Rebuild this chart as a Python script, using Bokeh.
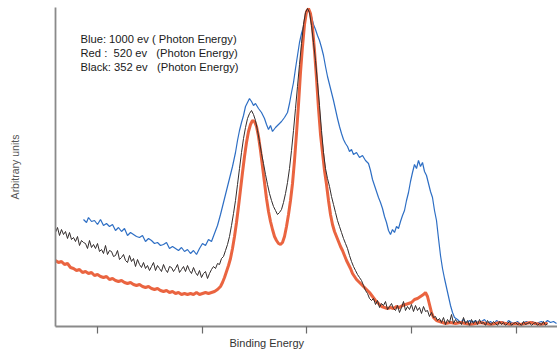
from bokeh.plotting import figure
from bokeh.models import Range1d, FixedTicker, Label, LinearAxis, Title
from bokeh.embed import file_html
from bokeh.resources import INLINE

# ---- data (x: binding-energy position, y: intensity, arbitrary units) ----
blue_x = [83, 86, 88, 91, 94, 97, 100, 103, 106, 109,
          112, 115, 118, 121, 124, 127, 130, 133, 136, 139,
          142, 145, 148, 151, 154, 157, 160, 163, 166, 169,
          172, 175, 178, 181, 184, 187, 190, 193, 196, 199,
          202, 205, 208, 211, 214, 217, 220, 223, 226, 229,
          232, 235, 237, 239, 241, 243, 245, 247, 249, 251,
          253, 255, 258, 261, 264, 266, 268, 270, 272, 275,
          278, 281, 284, 287, 289, 291, 293, 295, 297, 299,
          301, 303, 305, 307, 309, 311, 313, 315, 317, 319,
          321, 323, 325, 327, 329, 331, 333, 335, 337, 339,
          341, 343, 345, 347, 349, 351, 353, 356, 359, 362,
          365, 368, 370, 372, 374, 376, 378, 380, 382, 384,
          386, 388, 390, 392, 394, 396, 398, 400, 402, 404,
          406, 408, 410, 412, 414, 416, 418, 420, 422, 424,
          426, 428, 430, 432, 434, 436, 438, 440, 442, 444,
          446, 448, 450, 452, 454, 457, 460, 463, 466, 469,
          472, 475, 478, 481, 484, 487, 490, 493, 496, 499,
          502, 505, 508, 511, 514, 517, 520, 523, 526, 529,
          532, 535, 538, 541, 544, 547, 550, 553, 556]
blue_y = [109, 106, 111, 107, 108, 104, 109, 103, 105, 102,
          104, 98, 101, 97, 100, 93, 96, 94, 92, 91,
          93, 87, 90, 88, 85, 86, 83, 84, 86, 80,
          82, 80, 78, 81, 77, 79, 75, 78, 74, 80,
          85, 83, 89, 87, 95, 103, 114, 126, 138, 150,
          162, 176, 188, 198, 206, 213, 222, 226, 230, 227,
          223, 225, 220, 216, 210, 204, 199, 203, 197, 201,
          204, 207, 211, 216, 225, 236, 246, 260, 273, 286,
          295, 302, 311, 319, 316, 312, 304, 299, 293, 288,
          281, 273, 262, 252, 244, 236, 228, 219, 210, 202,
          195, 189, 185, 182, 177, 179, 174, 176, 171, 173,
          168, 165, 158, 149, 143, 137, 131, 126, 120, 112,
          106, 98, 94, 99, 96, 102, 100, 107, 113, 118,
          128, 136, 147, 156, 164, 160, 168, 162, 166, 157,
          153, 145, 137, 131, 118, 108, 90, 73, 60, 50,
          41, 32, 23, 16, 11, 9, 6, 9, 5, 8,
          6, 8, 5, 7, 9, 5, 7, 4, 8, 6,
          7, 4, 8, 6, 5, 7, 4, 6, 7, 5,
          7, 4, 6, 7, 5, 8, 6, 7, 5]

black_x = [55, 57, 59, 61, 63, 65, 67, 69, 71, 73,
           75, 77, 79, 81, 83, 85, 87, 89, 91, 93,
           95, 97, 99, 101, 103, 105, 107, 109, 111, 113,
           115, 117, 119, 121, 123, 125, 127, 129, 131, 133,
           135, 137, 139, 141, 143, 145, 147, 149, 151, 153,
           155, 157, 159, 161, 163, 165, 167, 169, 171, 173,
           175, 177, 179, 181, 183, 185, 187, 189, 191, 193,
           195, 197, 199, 201, 203, 205, 207, 209, 211, 213,
           215, 217, 219, 221, 223, 225, 227, 229, 231, 233,
           235, 237, 239, 241, 243, 245, 247, 249, 251, 253,
           255, 257, 259, 261, 263, 265, 267, 269, 271, 273,
           275, 277, 279, 281, 283, 285, 287, 289, 291, 293,
           295, 297, 299, 301, 303, 305, 307, 309, 311, 313,
           315, 317, 319, 321, 323, 325, 327, 329, 331, 333,
           335, 337, 339, 341, 343, 345, 347, 349, 351, 353,
           355, 357, 359, 361, 363, 365, 367, 369, 371, 373,
           375, 377, 379, 381, 383, 385, 387, 389, 391, 393,
           395, 397, 399, 401, 403, 405, 407, 409, 411, 413,
           415, 417, 419, 421, 423, 425, 427, 429, 431, 433,
           435, 437, 439, 441, 443, 445, 447, 449, 451, 453,
           455, 457, 459, 461, 463, 465, 467, 469, 471, 473,
           475, 477, 479, 481, 483, 485, 487, 489, 491, 493,
           495, 497, 499, 501, 503, 505, 507, 509, 511, 513,
           515, 517, 519, 521, 523, 525, 527, 529, 531, 533,
           535, 537, 539, 541, 543, 545, 547]
black_y = [96, 101, 93, 99, 94, 97, 90, 96, 89, 91,
           87, 92, 83, 88, 86, 85, 80, 88, 81, 84,
           80, 85, 77, 79, 75, 83, 74, 78, 77, 72,
           73, 78, 69, 71, 74, 68, 66, 73, 67, 70,
           62, 69, 64, 61, 66, 60, 63, 58, 62, 66,
           58, 63, 60, 57, 64, 59, 56, 62, 61, 57,
           60, 64, 56, 59, 62, 57, 63, 58, 55, 61,
           56, 53, 58, 51, 55, 57, 50, 55, 59, 62,
           60, 65, 64, 70, 72, 78, 84, 92, 103, 115,
           128, 144, 160, 176, 190, 201, 210, 215, 218, 214,
           208, 198, 187, 175, 165, 154, 144, 135, 128, 122,
           118, 114, 116, 119, 126, 135, 146, 160, 178, 198,
           220, 242, 264, 285, 304, 316, 320, 316, 303, 286,
           268, 246, 223, 198, 176, 160, 150, 142, 132, 124,
           116, 108, 102, 96, 90, 85, 80, 73, 67, 62,
           58, 54, 51, 48, 43, 38, 35, 30, 28, 30,
           24, 28, 21, 25, 23, 27, 19, 22, 25, 20,
           18, 23, 16, 21, 27, 18, 22, 19, 24, 17,
           23, 18, 21, 15, 22, 17, 18, 12, 16, 11,
           12, 8, 10, 6, 11, 4, 9, 6, 14, 5,
           9, 6, 7, 4, 11, 5, 8, 3, 9, 5,
           8, 4, 9, 5, 6, 3, 8, 5, 4, 7,
           5, 3, 7, 4, 6, 3, 5, 7, 3, 5,
           6, 4, 5, 3, 7, 4, 5, 6, 3, 5,
           6, 3, 5, 4, 7, 3, 5]

red_x = [55, 58, 61, 64, 67, 70, 73, 76, 79, 82,
         85, 88, 91, 94, 97, 100, 103, 106, 109, 112,
         115, 118, 121, 124, 127, 130, 133, 136, 139, 142,
         145, 148, 151, 154, 157, 160, 163, 166, 169, 172,
         175, 178, 181, 184, 187, 190, 193, 196, 199, 202,
         205, 208, 211, 214, 217, 220, 222, 224, 226, 228,
         230, 232, 234, 236, 238, 240, 242, 244, 246, 248,
         250, 252, 254, 256, 258, 260, 262, 264, 266, 268,
         270, 272, 274, 276, 278, 280, 282, 284, 286, 288,
         290, 292, 294, 296, 298, 300, 302, 304, 306, 308,
         310, 312, 314, 316, 318, 320, 322, 324, 326, 328,
         330, 332, 334, 336, 338, 340, 342, 344, 346, 348,
         350, 352, 354, 356, 358, 360, 363, 366, 369, 372,
         375, 378, 381, 384, 387, 390, 393, 396, 399, 402,
         405, 408, 411, 414, 417, 420, 423, 425, 427, 429,
         431, 433, 436, 439, 442, 445, 450, 455, 460, 465,
         470, 475, 480, 485, 490, 495, 500, 505, 510, 515,
         520, 525, 530, 535, 540, 545, 547]
red_y = [68, 66, 67, 64, 65, 61, 60, 58, 59, 56,
         57, 55, 56, 53, 54, 52, 51, 52, 49, 50,
         48, 47, 48, 46, 45, 46, 44, 43, 44, 42,
         41, 42, 40, 39, 40, 38, 37, 38, 36, 37,
         35, 36, 34, 35, 34, 35, 34, 36, 34, 35,
         36, 35, 36, 37, 39, 42, 46, 51, 57, 63,
         70, 80, 92, 106, 122, 139, 156, 172, 186, 197,
         204, 208, 207, 202, 192, 178, 162, 146, 130, 117,
         107, 99, 92, 88, 85, 84, 86, 92, 102, 114,
         128, 145, 168, 195, 224, 256, 282, 304, 317, 320,
         315, 301, 278, 250, 220, 194, 176, 158, 144, 128,
         114, 104, 97, 92, 87, 82, 78, 73, 68, 64,
         60, 55, 52, 49, 47, 45, 42, 39, 36, 32,
         28, 25, 22, 21, 20, 21, 20, 22, 21, 23,
         24, 25, 26, 29, 30, 32, 34, 36, 32, 24,
         16, 11, 8, 7, 6, 5, 6, 5, 6, 5,
         4, 5, 6, 5, 4, 5, 6, 5, 4, 5,
         4, 5, 6, 5, 4, 5, 5]

tick_positions = [97, 202, 306, 411, 516]
legend_lines = ["Blue: 1000 ev ( Photon Energy)",
                "Red :\u00a0\u00a0520 ev\u00a0\u00a0\u00a0(Photon Energy)",
                "Black: 352 ev\u00a0\u00a0\u00a0(Photon Energy)"]
x_title = "Binding Energy"
y_title = "Arbitrary units"

FONT = "Liberation Sans"
AXIS_COLOR = "#8a8a8a"

p = figure(width=557, height=352, output_backend="svg", toolbar_location=None,
           x_range=Range1d(55, 557), y_range=Range1d(2, 321),
           x_axis_location=None, y_axis_location=None,
           min_border_left=55, min_border_right=0, min_border_top=7,
           min_border_bottom=26)
p.outline_line_color = None
p.xgrid.visible = False
p.ygrid.visible = False
p.background_fill_color = "white"

xa = LinearAxis(ticker=FixedTicker(ticks=tick_positions))
xa.axis_line_color = AXIS_COLOR
xa.axis_line_width = 1.8
xa.major_tick_line_color = "#6a6a6a"
xa.major_tick_line_width = 1.2
xa.major_tick_out = 7
xa.major_tick_in = 0
xa.minor_tick_line_color = None
xa.major_label_overrides = {t: "" for t in tick_positions}
xa.major_label_standoff = 0
xa.major_label_text_font_size = "2px"
p.add_layout(xa, "below")

ya = LinearAxis(ticker=FixedTicker(ticks=[]))
ya.axis_line_color = AXIS_COLOR
ya.axis_line_width = 1.8
ya.major_tick_line_color = None
ya.minor_tick_line_color = None
ya.axis_label = y_title
ya.axis_label_standoff = 35
ya.axis_label_text_font = FONT
ya.axis_label_text_font_size = "10.5px"
ya.axis_label_text_font_style = "normal"
ya.axis_label_text_color = "#555555"
p.add_layout(ya, "left")

p.add_layout(Title(text=x_title, align="left", offset=174, standoff=2,
                   text_font=FONT, text_font_size="11px",
                   text_font_style="normal", text_color="#333333"), "below")

p.line(blue_x, blue_y, line_color="#2d6ec4", line_width=1.2)
p.line(red_x, red_y, line_color="#ea6440", line_width=3)
p.line(black_x, black_y, line_color="#322c2c", line_width=1)

for i, t in enumerate(legend_lines):
    p.add_layout(Label(x=80, y=290 - 14 * i, text=t, text_font=FONT,
                       text_font_size="11.2px", text_color="#1a1a1a",
                       text_baseline="alphabetic", text_align="left"))

open("out.html", "w").write(file_html(p, INLINE))
